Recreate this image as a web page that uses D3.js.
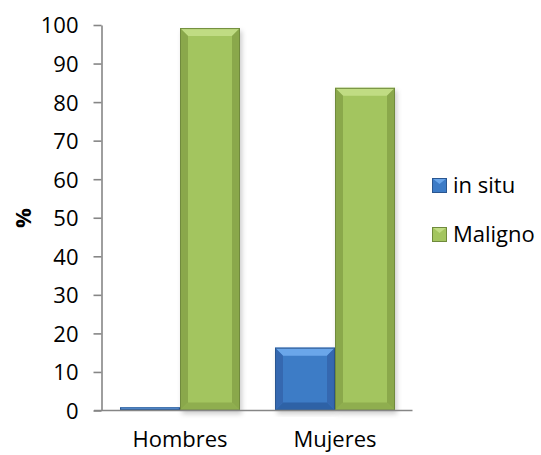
<!DOCTYPE html>
<html>
<head>
<meta charset="utf-8">
<script src="https://cdn.jsdelivr.net/npm/d3@7/dist/d3.min.js"></script>
<style>
  html, body { margin: 0; padding: 0; background: #fff; }
  svg { display: block; font-family: "Open Sans", sans-serif; }
</style>
</head>
<body>
<svg id="chart" width="541" height="455"></svg>
<script>
const categories = ["Hombres", "Mujeres"];
const seriesNames = ["in situ", "Maligno"];
const inSitu = [0.8, 16.3];
const maligno = [99.2, 83.7];
const yTicks = [0, 10, 20, 30, 40, 50, 60, 70, 80, 90, 100];
const yLabel = "%";

const palette = {
  "in situ": { base: "#3c7bc6", top: "#6aa6ea", bottom: "#2d62a6", side: "#3468b0", edge: "#2a5690" },
  "Maligno": { base: "#a3c55f", top: "#c0dc83", bottom: "#8fae4f", side: "#8aa84c", edge: "#6f8a3c" }
};

const svg = d3.select("#chart");
const defs = svg.append("defs");
const f = defs.append("filter").attr("id", "shadow").attr("x", "-20%").attr("y", "-5%").attr("width", "150%").attr("height", "115%");
f.append("feDropShadow").attr("dx", 2).attr("dy", 3).attr("stdDeviation", 2.5).attr("flood-color", "#000").attr("flood-opacity", 0.2);

const y = d3.scaleLinear().domain([0, 100]).range([410.5, 25]);
const x0 = d3.scaleBand().domain(categories).range([102.5, 412.5]).padding(0);
const x1 = d3.scaleBand().domain(seriesNames).range([17.5, 137.5]).padding(0);

const data = categories.map((c, i) => ({
  cat: c,
  values: [{ s: "in situ", v: inSitu[i] }, { s: "Maligno", v: maligno[i] }]
}));

const groups = svg.append("g").selectAll("g").data(data).join("g")
  .attr("transform", d => `translate(${x0(d.cat)},0)`);

function drawBar(g, d) {
  const bx = x1(d.s), bw = x1.bandwidth();
  const by = y(d.v), bh = y(0) - y(d.v);
  const p = palette[d.s];
  const bar = g.append("g").attr("filter", "url(#shadow)");
  bar.append("rect").attr("x", bx).attr("y", by).attr("width", bw).attr("height", bh).attr("fill", p.base);
  const b = Math.min(8, bh / 2, bw / 2);
  if (b > 0.5) {
    const L = bx, R = bx + bw, T = by, B = by + bh;
    const poly = (pts, fill) => bar.append("polygon").attr("points", pts.map(q => q.join(",")).join(" ")).attr("fill", fill);
    poly([[L, T], [R, T], [R - b, T + b], [L + b, T + b]], p.top);
    poly([[L, B], [R, B], [R - b, B - b], [L + b, B - b]], p.bottom);
    poly([[L, T], [L + b, T + b], [L + b, B - b], [L, B]], p.side);
    poly([[R, T], [R - b, T + b], [R - b, B - b], [R, B]], p.side);
  }
  bar.append("rect").attr("x", bx + 0.5).attr("y", by + 0.5).attr("width", Math.max(0, bw - 1)).attr("height", Math.max(0, bh - 1))
    .attr("fill", "none").attr("stroke", p.edge).attr("stroke-width", 1);
}
groups.each(function (d) {
  const g = d3.select(this);
  d.values.forEach(v => drawBar(g, v));
});

// y axis
const yAxis = d3.axisLeft(y).tickValues(yTicks).tickSize(8).tickSizeOuter(0).tickPadding(15);
const ya = svg.append("g").attr("transform", "translate(101.5,0)").call(yAxis);
ya.select(".domain").attr("stroke", "#868686").attr("stroke-width", 1.6);
ya.selectAll(".tick line").attr("stroke", "#868686").attr("stroke-width", 1.6);
ya.selectAll(".tick text").attr("font-family", "Open Sans").attr("font-size", 22).attr("fill", "#000").attr("dy", "0.36em");

// x axis
const xAxis = d3.axisBottom(x0).tickSize(0).tickSizeOuter(0).tickPadding(21);
const xa = svg.append("g").attr("transform", "translate(0,410.5)").call(xAxis);
xa.select(".domain").attr("stroke", "#868686").attr("stroke-width", 1.6).attr("d", "M94,0H412.5");
xa.selectAll(".tick text").attr("font-family", "Open Sans").attr("font-size", 22).attr("fill", "#000");

// y label
svg.append("text").attr("transform", "translate(31,218) rotate(-90)")
  .attr("text-anchor", "middle").attr("font-weight", "bold").attr("font-size", 22).text(yLabel);

// legend
const legend = svg.append("g").selectAll("g").data(seriesNames).join("g")
  .attr("transform", (d, i) => `translate(432,${178 + i * 49})`);
legend.each(function (s) {
  const g = d3.select(this);
  const p = palette[s];
  const w = 15, h = 15, b = 4;
  g.append("rect").attr("width", w).attr("height", h).attr("fill", p.base);
  g.append("polygon").attr("points", `0,0 ${w},0 ${w / 2},${b + 2}`).attr("fill", p.top);
  g.append("rect").attr("x", 0.5).attr("y", 0.5).attr("width", w - 1).attr("height", h - 1).attr("fill", "none").attr("stroke", p.edge);
  g.append("text").attr("x", 21).attr("y", 7.5).attr("dy", "0.36em").attr("font-size", 22).attr("fill", "#000").text(s);
});
</script>
</body>
</html>
